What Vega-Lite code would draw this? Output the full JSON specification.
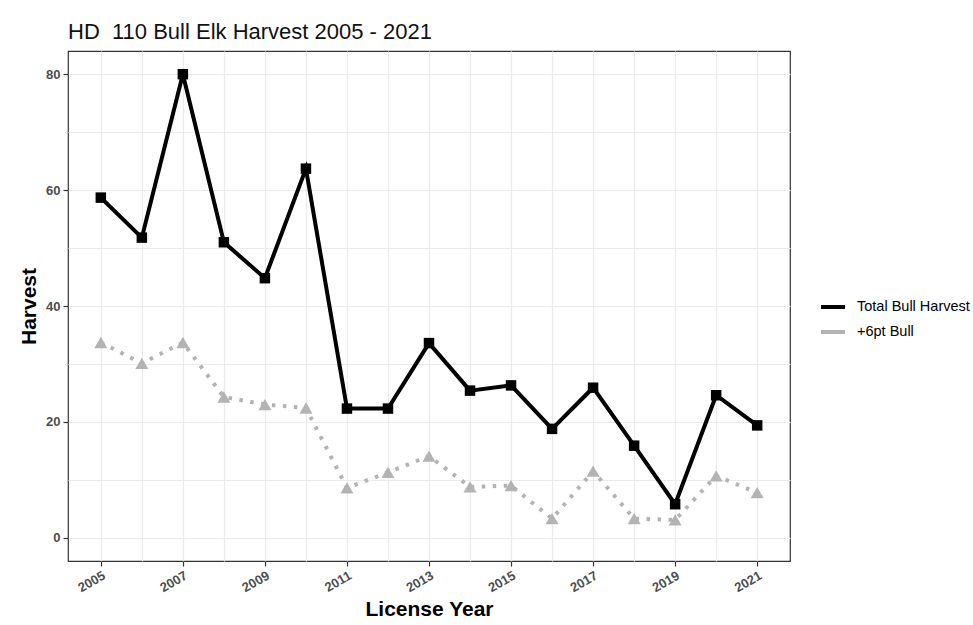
{
  "$schema": "https://vega.github.io/schema/vega-lite/v6.json",
  "autosize": {"type": "none"},
  "width": 722,
  "height": 510,
  "padding": {"left": 68, "top": 51, "right": 183, "bottom": 64},
  "background": "white",
  "config": {
    "font": "Liberation Sans",
    "view": {"stroke": "#333333", "strokeWidth": 1.2},
    "axis": {
      "domain": false,
      "gridColor": "#EBEBEB",
      "gridWidth": 1.2,
      "tickColor": "#333333",
      "tickSize": 5,
      "tickWidth": 1.2,
      "labelColor": "#4D4D4D",
      "labelFont": "Liberation Sans",
      "labelFontWeight": "bold",
      "labelFontSize": 13,
      "titleFont": "Liberation Sans",
      "titleFontWeight": "bold",
      "titleFontSize": 21,
      "titleColor": "black"
    }
  },
  "title": {
    "text": "HD\u00a0 110 Bull Elk Harvest 2005 - 2021",
    "anchor": "start",
    "frame": "group",
    "baseline": "alphabetic",
    "offset": 12,
    "dy": 22,
    "fontSize": 22,
    "fontWeight": "normal",
    "font": "Liberation Sans",
    "color": "#111111"
  },
  "data": {
    "values": [
      {"year": 2005, "value": 58.7, "series": "Total Bull Harvest"},
      {"year": 2006, "value": 51.8, "series": "Total Bull Harvest"},
      {"year": 2007, "value": 80.0, "series": "Total Bull Harvest"},
      {"year": 2008, "value": 51.0, "series": "Total Bull Harvest"},
      {"year": 2009, "value": 44.8, "series": "Total Bull Harvest"},
      {"year": 2010, "value": 63.7, "series": "Total Bull Harvest"},
      {"year": 2011, "value": 22.3, "series": "Total Bull Harvest"},
      {"year": 2012, "value": 22.3, "series": "Total Bull Harvest"},
      {"year": 2013, "value": 33.6, "series": "Total Bull Harvest"},
      {"year": 2014, "value": 25.4, "series": "Total Bull Harvest"},
      {"year": 2015, "value": 26.3, "series": "Total Bull Harvest"},
      {"year": 2016, "value": 18.8, "series": "Total Bull Harvest"},
      {"year": 2017, "value": 25.9, "series": "Total Bull Harvest"},
      {"year": 2018, "value": 15.9, "series": "Total Bull Harvest"},
      {"year": 2019, "value": 5.8, "series": "Total Bull Harvest"},
      {"year": 2020, "value": 24.6, "series": "Total Bull Harvest"},
      {"year": 2021, "value": 19.4, "series": "Total Bull Harvest"},
      {"year": 2005, "value": 33.7, "series": "+6pt Bull"},
      {"year": 2006, "value": 30.1, "series": "+6pt Bull"},
      {"year": 2007, "value": 33.7, "series": "+6pt Bull"},
      {"year": 2008, "value": 24.3, "series": "+6pt Bull"},
      {"year": 2009, "value": 23.0, "series": "+6pt Bull"},
      {"year": 2010, "value": 22.4, "series": "+6pt Bull"},
      {"year": 2011, "value": 8.6, "series": "+6pt Bull"},
      {"year": 2012, "value": 11.3, "series": "+6pt Bull"},
      {"year": 2013, "value": 14.1, "series": "+6pt Bull"},
      {"year": 2014, "value": 8.8, "series": "+6pt Bull"},
      {"year": 2015, "value": 9.0, "series": "+6pt Bull"},
      {"year": 2016, "value": 3.3, "series": "+6pt Bull"},
      {"year": 2017, "value": 11.5, "series": "+6pt Bull"},
      {"year": 2018, "value": 3.3, "series": "+6pt Bull"},
      {"year": 2019, "value": 3.1, "series": "+6pt Bull"},
      {"year": 2020, "value": 10.7, "series": "+6pt Bull"},
      {"year": 2021, "value": 7.8, "series": "+6pt Bull"}
    ]
  },
  "encoding": {
    "x": {
      "field": "year",
      "type": "quantitative",
      "title": "License Year",
      "scale": {"domain": [2004.2, 2021.8], "nice": false, "zero": false},
      "axis": {
        "values": [2005, 2006, 2007, 2008, 2009, 2010, 2011, 2012, 2013, 2014, 2015, 2016, 2017, 2018, 2019, 2020, 2021],
        "format": "d",
        "labelExpr": "datum.value % 2 == 1 ? datum.label : ''",
        "tickOpacity": {"condition": {"test": "datum.value % 2 == 0", "value": 0}, "value": 1},
        "labelAngle": -30,
        "labelAlign": "right",
        "labelBaseline": "top",
        "labelPadding": 3,
        "titlePadding": 4
      }
    },
    "y": {
      "field": "value",
      "type": "quantitative",
      "title": "Harvest",
      "scale": {"domain": [-4, 84], "nice": false, "zero": false},
      "axis": {
        "values": [0, 10, 20, 30, 40, 50, 60, 70, 80],
        "labelExpr": "datum.value % 20 == 0 ? datum.label : ''",
        "tickOpacity": {"condition": {"test": "datum.value % 20 != 0", "value": 0}, "value": 1},
        "labelPadding": 3,
        "titlePadding": 6
      }
    }
  },
  "layer": [
    {
      "transform": [{"filter": "datum.series == '+6pt Bull'"}],
      "mark": {"type": "line", "strokeWidth": 4, "strokeCap": "butt", "strokeDash": [3.5, 7.5]},
      "encoding": {
        "color": {
          "field": "series",
          "type": "nominal",
          "scale": {"domain": ["Total Bull Harvest", "+6pt Bull"], "range": ["#000000", "#B3B3B3"]},
          "legend": {
            "title": null,
            "orient": "none",
            "legendX": 751,
            "legendY": 242,
            "padding": 0,
            "symbolType": "stroke",
            "symbolSize": 576,
            "symbolStrokeWidth": 4,
            "symbolDash": [1, 0],
            "labelFontSize": 14.5,
            "labelFont": "Liberation Sans",
            "labelColor": "black",
            "labelOffset": 10,
            "labelLimit": 200,
            "rowPadding": 3
          }
        },
        "order": {"field": "year", "type": "quantitative"}
      }
    },
    {
      "transform": [{"filter": "datum.series == '+6pt Bull'"}],
      "mark": {"type": "point", "filled": true, "opacity": 1, "strokeWidth": 0, "shape": "triangle-up", "size": 170, "color": "#B3B3B3"}
    },
    {
      "transform": [{"filter": "datum.series == 'Total Bull Harvest'"}],
      "mark": {"type": "line", "strokeWidth": 4, "strokeCap": "butt", "strokeJoin": "miter"},
      "encoding": {
        "color": {
          "field": "series",
          "type": "nominal",
          "scale": {"domain": ["Total Bull Harvest", "+6pt Bull"], "range": ["#000000", "#B3B3B3"]}
        },
        "order": {"field": "year", "type": "quantitative"}
      }
    },
    {
      "transform": [{"filter": "datum.series == 'Total Bull Harvest'"}],
      "mark": {"type": "point", "filled": true, "opacity": 1, "strokeWidth": 0, "shape": "square", "size": 110, "color": "#000000"}
    }
  ]
}
